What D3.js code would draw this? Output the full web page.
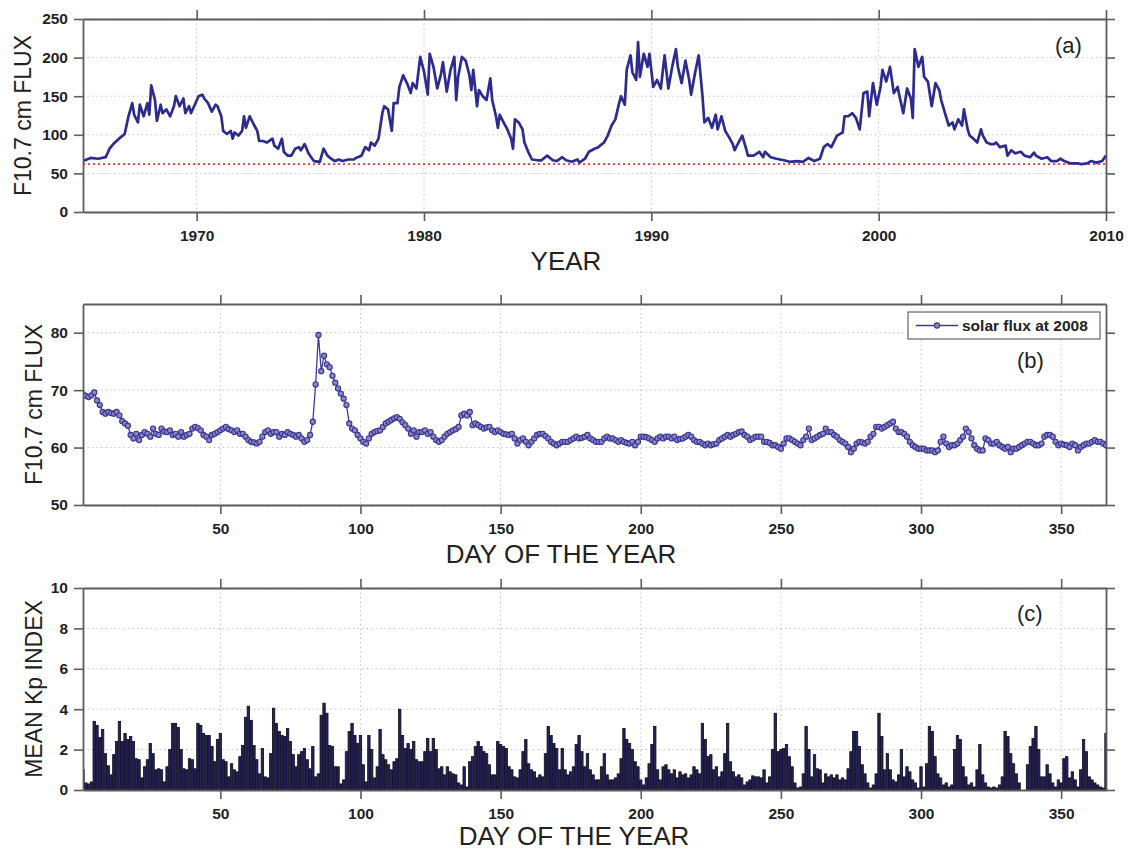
<!DOCTYPE html>
<html>
<head>
<meta charset="utf-8">
<script src="https://cdn.jsdelivr.net/npm/d3@7"></script>
<style>
  body { margin: 0; background: #fff; }
  svg { display: block; font-family: "Liberation Sans", Arial, sans-serif; }
</style>
</head>
<body>
<svg id="fig" width="1128" height="850"></svg>
<script>
// ---------------- data ----------------
// (a) F10.7 solar flux, sampled by month counted from January 1965
const fluxMonth = [0,1,4,8,12,14,16,19,22,24,26,27,29,30,32,34,35,36,38,39,41,42,44,46,48,49,51,53,54,56,57,59,61,63,64,66,68,70,71,73,74,76,78,79,80,82,84,85,86,88,90,92,93,95,97,100,101,103,105,106,108,110,112,114,115,117,119,121,122,125,127,129,131,133,135,137,140,143,144,147,149,151,152,154,156,158,159,161,163,164,166,167,169,171,173,174,176,178,180,182,183,185,187,189,190,192,194,196,197,198,200,202,204,205,206,208,209,211,213,215,216,218,219,220,222,224,226,227,228,230,232,233,235,237,240,242,245,248,250,253,255,258,261,262,265,267,270,272,275,277,279,281,283,284,286,287,289,290,292,293,294,296,298,299,301,303,305,307,309,311,313,314,316,318,320,321,323,325,327,328,330,332,334,335,337,339,341,343,344,346,348,350,351,354,357,359,360,363,366,370,373,377,380,383,386,389,391,393,395,398,401,402,404,406,408,410,412,414,415,417,419,421,422,424,426,428,430,431,433,435,437,438,439,441,443,444,446,448,450,452,453,455,457,459,460,462,464,465,467,468,470,472,474,475,477,479,481,482,484,487,488,490,492,495,497,500,502,503,506,509,511,514,516,518,521,525,527,530,532,535,538,540];
const fluxValue = [67,67,70,69,71,82,88,95,101,124,141,126,116,139,124,141,126,164,145,118,139,128,133,124,137,150,137,147,128,137,128,139,150,152,147,141,130,139,137,124,105,101,105,95,103,99,105,124,109,124,114,105,92,92,90,95,86,82,95,78,73,73,82,84,80,88,76,69,66,65,82,73,69,66,68,66,68,68,70,73,84,80,90,86,95,128,137,133,105,141,141,162,177,167,154,167,160,201,182,152,205,188,160,179,194,156,184,201,145,175,201,196,177,158,184,137,158,150,145,173,145,124,109,126,116,107,95,82,120,116,107,90,78,68,67,67,73,67,66,71,67,65,68,64,69,78,82,84,90,99,112,120,141,150,139,184,203,181,171,220,175,205,188,205,162,171,160,203,160,188,211,188,167,196,171,152,179,203,150,116,122,109,126,107,124,105,97,88,80,90,99,82,73,73,78,71,78,71,69,67,65,66,65,70,66,69,84,88,84,99,103,124,124,128,122,107,154,156,124,167,139,162,184,169,188,154,162,150,128,160,147,122,211,188,201,175,169,137,167,158,145,128,112,116,107,120,112,133,107,99,95,90,107,99,90,88,88,90,84,86,73,80,76,78,73,71,77,73,69,71,66,66,69,66,63,63,62,63,66,64,66,73];
const quietLevel = 62;

// (b) daily F10.7 flux in 2008, day 1 .. 366
const flux2008 = [
69.3,69.0,68.8,69.1,69.6,68.2,67.4,66.2,65.9,66.2,
66.0,65.9,66.2,65.6,64.6,64.2,63.8,62.2,61.6,62.4,
61.3,62.2,62.7,62.4,61.9,63.3,62.4,62.2,63.3,62.8,
62.7,63.0,62.2,62.4,61.9,62.7,61.9,62.2,62.4,63.3,
63.6,63.4,63.0,62.2,61.9,61.3,62.2,62.4,62.7,63.0,
63.3,63.6,63.2,63.0,62.7,63.0,62.4,62.4,61.9,61.3,
61.0,60.9,60.7,61.0,61.9,62.7,63.0,62.4,62.7,62.7,
61.9,62.4,62.2,62.7,62.4,62.2,61.9,62.2,61.6,61.0,
61.3,62.2,64.5,71.0,79.6,73.3,76.0,74.5,74.0,72.5,
71.3,70.3,69.4,68.5,67.4,64.2,63.3,63.0,62.2,61.6,
61.0,60.7,61.6,62.4,62.7,62.9,63.0,63.6,64.2,64.5,
64.8,65.1,65.3,65.0,64.4,63.9,63.3,62.4,63.0,61.9,
62.7,62.7,63.0,62.4,62.7,61.9,61.3,61.0,61.3,61.9,
62.4,62.7,63.0,63.2,63.6,65.6,65.9,65.6,66.2,63.9,
64.2,63.9,63.6,63.3,63.5,63.6,63.0,62.7,63.0,62.7,
62.4,62.3,62.2,62.4,61.6,60.7,61.3,61.6,61.0,60.4,
61.0,61.6,62.2,62.4,62.4,62.0,61.6,61.0,60.7,60.4,
60.7,61.0,61.0,61.0,61.3,61.6,61.9,61.6,61.7,61.9,
62.2,61.6,61.3,61.0,61.0,61.0,61.6,61.9,61.6,61.6,
61.3,61.0,61.3,61.0,60.8,60.7,61.0,60.4,61.0,61.9,
61.9,61.8,61.6,61.3,61.0,61.6,61.9,61.6,61.9,61.9,
61.6,61.9,61.3,61.5,61.6,61.9,62.2,61.9,61.3,61.0,
61.0,60.7,60.4,60.7,60.4,60.6,60.7,61.3,61.6,61.9,
62.2,61.9,62.2,62.4,62.7,62.8,62.2,61.9,61.3,61.6,
61.9,61.9,61.9,61.0,61.0,60.8,60.4,60.4,60.1,59.8,
60.7,61.6,61.6,61.3,61.0,60.7,60.4,61.3,61.9,63.3,
61.3,61.6,61.9,62.2,62.4,63.3,62.7,62.7,62.2,61.9,
61.3,61.0,60.7,60.1,59.2,59.8,60.7,61.0,60.9,60.7,
61.0,61.9,62.4,63.6,63.6,63.3,63.6,63.9,64.2,64.5,
63.3,62.7,62.7,62.4,61.9,61.0,60.4,60.1,59.8,59.8,
59.8,59.5,59.5,59.5,59.2,59.5,61.0,61.9,60.7,60.1,
60.4,60.4,60.7,61.3,61.9,63.3,62.7,61.6,60.4,59.8,
59.5,59.5,61.6,61.3,60.7,60.7,61.0,60.4,60.1,59.8,
60.1,59.2,59.8,59.8,60.1,60.4,60.7,61.0,61.0,60.7,
60.4,60.4,60.7,61.9,62.2,62.2,61.9,61.0,60.4,60.7,
60.5,60.4,60.1,60.7,60.4,59.5,60.1,60.4,60.7,60.7,
61.0,61.3,61.0,61.0,60.7,60.4
];

// (c) daily mean Kp index in 2008, day 1 .. 366
const kp2008 = [
1.0,0.35,0.3,0.4,3.4,3.2,2.6,3.0,1.8,1.2,
0.75,1.75,2.4,3.4,2.4,2.8,2.5,2.65,2.4,1.55,
1.5,0.6,1.15,1.5,2.3,1.8,1.0,1.05,1.0,0.4,
1.15,2.0,3.3,3.3,3.1,2.0,1.05,1.0,1.55,1.5,
1.05,3.3,3.2,2.8,2.7,2.7,2.15,1.4,2.5,2.8,
1.5,1.4,0.65,1.3,1.0,0.9,1.65,2.2,3.6,4.15,
3.45,2.2,1.5,0.8,2.05,0.65,0.6,1.8,4.05,3.3,
2.9,2.7,2.65,3.05,2.4,1.75,1.15,1.75,1.9,2.05,
1.5,1.05,2.15,0.65,0.8,3.7,4.3,3.8,2.2,2.15,
1.15,1.15,0.3,0.5,1.9,2.9,3.3,2.7,2.3,2.7,
1.25,0.4,2.7,2.0,0.6,1.15,3.0,1.75,1.5,1.25,
1.0,1.4,1.55,4.0,2.7,2.05,2.3,2.0,2.4,1.5,
1.4,1.4,1.9,2.55,1.9,2.55,2.0,1.05,1.15,0.75,
1.15,0.9,0.8,0.75,0.35,0.25,1.15,0.15,1.4,1.65,
2.15,2.4,2.15,1.9,1.8,1.25,0.75,0.75,2.4,2.25,
2.15,2.05,1.15,1.0,0.65,0.6,1.0,1.9,2.5,1.3,
1.0,0.9,0.6,0.75,0.65,1.8,3.15,2.7,2.3,2.05,
1.0,2.05,1.0,0.75,0.9,1.15,2.25,2.7,1.9,1.15,
1.8,1.0,0.75,0.5,0.5,1.15,1.8,0.75,0.5,0.5,
0.6,0.8,1.55,3.05,2.5,2.3,2.0,1.4,1.15,0.5,
0.25,0.6,1.3,2.25,3.15,1.0,0.5,1.15,1.25,1.0,
0.8,1.0,0.6,0.9,0.75,0.8,0.6,0.75,1.15,1.0,
0.8,3.3,2.5,1.65,1.75,1.0,1.15,0.65,0.9,1.8,
3.3,1.4,0.9,0.65,0.75,0.6,0.25,0.4,0.5,0.7,
0.65,0.65,0.6,1.0,0.35,0.65,2.0,3.8,1.9,2.0,
2.05,2.25,1.65,1.15,0.35,0.1,0.15,0.8,3.15,2.0,
0.65,1.75,1.05,1.0,0.35,0.8,0.65,0.75,0.6,0.75,
0.5,0.6,0.5,1.05,1.9,2.9,2.9,2.15,1.25,0.8,
0.35,0.1,0.25,0.8,3.8,2.65,1.0,1.8,1.0,0.5,
0.4,0.75,2.0,0.65,1.15,0.9,0.5,0.35,0.1,1.15,
0.15,1.3,3.15,2.9,1.65,0.8,0.6,0.25,0.35,0.15,
0.25,2.0,2.7,2.5,1.15,0.65,0.25,0.35,0.15,1.0,
2.25,0.75,0.35,0.15,0.1,0.15,0.1,0.25,0.65,2.9,
2.65,1.8,1.3,0.8,0.35,0.0,0.0,1.25,2.15,2.55,
3.15,2.0,0.65,0.65,1.25,0.8,0.35,0.15,0.5,0.35,
1.55,1.65,0.6,0.9,0.5,0.15,1.0,2.5,1.9,0.65,
0.5,0.35,0.25,0.15,0.1,2.8
];

// tick values
const yearTicks = [1970, 1980, 1990, 2000, 2010];
const fluxTicksA = [0, 50, 100, 150, 200, 250];
const dayTicks = [50, 100, 150, 200, 250, 300, 350];
const fluxTicksB = [50, 60, 70, 80];
const kpTicks = [0, 2, 4, 6, 8, 10];

// ---------------- drawing ----------------
const FONT = '"Liberation Sans", Arial, sans-serif';
const AXIS_COLOR = "#5c5c5c";
const GRID_COLOR = "#c4c4c4";
const svg = d3.select("#fig");
const L = 83, R = 1106;

function clip(id, top, bottom) {
  svg.append("clipPath").attr("id", id)
    .append("rect").attr("x", L).attr("y", top).attr("width", R - L).attr("height", bottom - top);
  return "url(#" + id + ")";
}

function grid(x, y, xt, yt, top, bottom) {
  const g = svg.append("g").attr("stroke", GRID_COLOR).attr("stroke-width", 1)
    .attr("stroke-dasharray", "1.5,3");
  g.selectAll(".gx").data(xt).join("line").attr("class", "gx")
    .attr("x1", d => x(d)).attr("x2", d => x(d)).attr("y1", top).attr("y2", bottom);
  g.selectAll(".gy").data(yt).join("line").attr("class", "gy")
    .attr("x1", L).attr("x2", R).attr("y1", d => y(d)).attr("y2", d => y(d));
}

function styleAxis(g) {
  g.attr("font-family", FONT).attr("font-size", 15.5).attr("font-weight", "bold");
  g.select(".domain").attr("stroke", AXIS_COLOR).attr("stroke-width", 1.8);
  g.selectAll(".tick line").attr("stroke", AXIS_COLOR).attr("stroke-width", 1.6);
  g.selectAll(".tick text").attr("fill", "#222");
}

function axes(x, y, xt, yt, top, bottom, xfmt) {
  styleAxis(svg.append("g").attr("transform", `translate(0,${bottom})`)
    .call(d3.axisBottom(x).tickValues(xt).tickFormat(xfmt).tickSize(9).tickSizeOuter(0).tickPadding(9)));
  styleAxis(svg.append("g").attr("transform", `translate(0,${top})`)
    .call(d3.axisTop(x).tickValues(xt).tickFormat("").tickSize(9).tickSizeOuter(0)));
  styleAxis(svg.append("g").attr("transform", `translate(${L},0)`)
    .call(d3.axisLeft(y).tickValues(yt).tickFormat(d3.format("d")).tickSize(9).tickSizeOuter(0).tickPadding(6)));
  styleAxis(svg.append("g").attr("transform", `translate(${R},0)`)
    .call(d3.axisRight(y).tickValues(yt).tickFormat("").tickSize(9).tickSizeOuter(0)));
}

function text(str, x, y, size, opts = {}) {
  const t = svg.append("text").attr("x", x).attr("y", y).text(str)
    .attr("font-family", FONT).attr("font-size", size).attr("fill", "#222")
    .attr("text-anchor", opts.anchor || "middle");
  if (opts.weight) t.attr("font-weight", opts.weight);
  return t;
}

function yLabel(str, x, cy) {
  svg.append("text").attr("transform", `translate(${x},${cy}) rotate(-90)`)
    .attr("text-anchor", "middle").attr("font-family", FONT).attr("font-size", 23)
    .attr("fill", "#222").text(str);
}

// ---- panel (a): F10.7 flux 1965-2010 ----
{
  const top = 19, bottom = 212;
  const x = d3.scaleLinear().domain([1965, 2010]).range([L, R]);
  const y = d3.scaleLinear().domain([0, 250]).range([bottom, top]);
  grid(x, y, yearTicks, fluxTicksA, top, bottom);
  const cp = clip("clipA", top, bottom);

  svg.append("line").attr("clip-path", cp)
    .attr("x1", L).attr("x2", R).attr("y1", y(quietLevel)).attr("y2", y(quietLevel))
    .attr("stroke", "#e8363a").attr("stroke-width", 1.6).attr("stroke-dasharray", "2,3");

  const pts = fluxMonth.map((m, i) => [1965 + m / 12, fluxValue[i]]);
  svg.append("path").datum(pts).attr("clip-path", cp)
    .attr("fill", "none").attr("stroke", "#2d2b8e").attr("stroke-width", 2.7)
    .attr("stroke-linejoin", "round")
    .attr("d", d3.line().x(d => x(d[0])).y(d => y(d[1])));

  axes(x, y, yearTicks, fluxTicksA, top, bottom, d3.format("d"));
  yLabel("F10.7 cm FLUX", 31, (top + bottom) / 2);
  text("YEAR", 566, 270, 26);
  text("(a)", 1055, 53, 22, { anchor: "start" });
}

const dayX = d3.scaleLinear().domain([1, 366]).range([L, R]);

// ---- panel (b): daily flux 2008 ----
{
  const top = 304, bottom = 505;
  const y = d3.scaleLinear().domain([50, 85]).range([bottom, top]);
  grid(dayX, y, dayTicks, fluxTicksB, top, bottom);
  const cp = clip("clipB", top, bottom);
  const pts = flux2008.map((v, i) => [i + 1, v]);

  svg.append("path").datum(pts).attr("clip-path", cp)
    .attr("fill", "none").attr("stroke", "#3d3a9e").attr("stroke-width", 1.3)
    .attr("d", d3.line().x(d => dayX(d[0])).y(d => y(d[1])));
  svg.append("g").attr("clip-path", cp).selectAll("circle").data(pts).join("circle")
    .attr("cx", d => dayX(d[0])).attr("cy", d => y(d[1])).attr("r", 2.6)
    .attr("fill", "#8a85c6").attr("stroke", "#38348f").attr("stroke-width", 1.1);

  axes(dayX, y, dayTicks, fluxTicksB, top, bottom, d3.format("d"));
  yLabel("F10.7 cm FLUX", 42, (top + bottom) / 2);
  text("DAY OF THE YEAR", 561, 563, 26);
  text("(b)", 1017, 368, 22, { anchor: "start" });

  // legend
  const lg = svg.append("g");
  lg.append("rect").attr("x", 908).attr("y", 312).attr("width", 192).attr("height", 27)
    .attr("fill", "#fff").attr("stroke", "#444").attr("stroke-width", 1);
  lg.append("line").attr("x1", 916).attr("x2", 958).attr("y1", 325.5).attr("y2", 325.5)
    .attr("stroke", "#3d3a9e").attr("stroke-width", 1.3);
  lg.append("circle").attr("cx", 937).attr("cy", 325.5).attr("r", 2.6)
    .attr("fill", "#8a85c6").attr("stroke", "#38348f").attr("stroke-width", 1.1);
  text("solar flux at 2008", 962, 331, 15.5, { anchor: "start", weight: "bold" });
}

// ---- panel (c): daily mean Kp 2008 ----
{
  const top = 588, bottom = 790;
  const y = d3.scaleLinear().domain([0, 10]).range([bottom, top]);
  grid(dayX, y, dayTicks, kpTicks, top, bottom);
  const cp = clip("clipC", top, bottom);
  const bw = (dayX(2) - dayX(1)) * 0.85;

  svg.append("g").attr("clip-path", cp).selectAll("rect").data(kp2008).join("rect")
    .attr("x", (d, i) => dayX(i + 1) - bw / 2).attr("width", bw)
    .attr("y", d => y(d)).attr("height", d => y(0) - y(d))
    .attr("fill", "#26225f").attr("stroke", "#0c0c16").attr("stroke-width", 0.8);

  axes(dayX, y, dayTicks, kpTicks, top, bottom, d3.format("d"));
  yLabel("MEAN Kp INDEX", 42, (top + bottom) / 2);
  text("DAY OF THE YEAR", 574, 845, 26);
  text("(c)", 1017, 621, 22, { anchor: "start" });
}
</script>
</body>
</html>
